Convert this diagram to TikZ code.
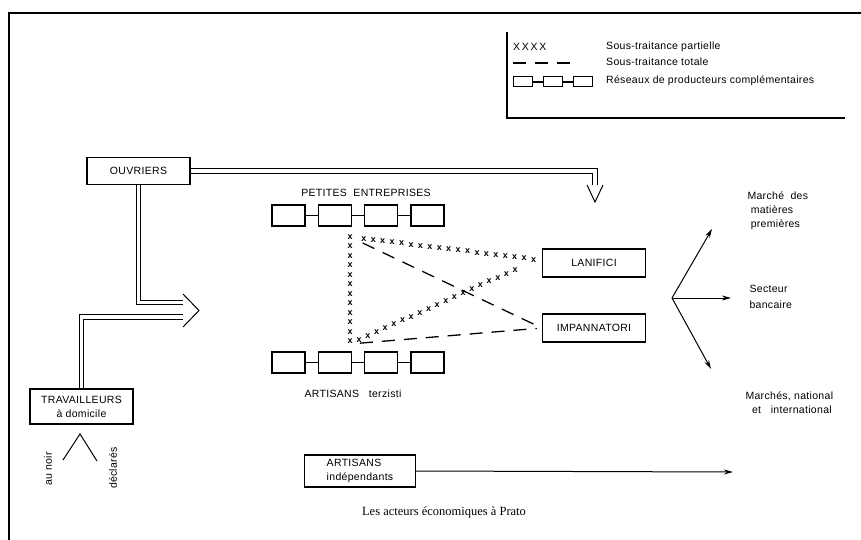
\documentclass[tikz,border=0pt]{standalone}
\usepackage{fontspec}
\setmainfont{Liberation Sans}[LetterSpace=3]
\newfontfamily\legendefont{Liberation Serif}
\usepackage{tikz}
\usetikzlibrary{arrows.meta, positioning, calc, decorations.markings}
\tikzset{
  acteur/.style={rectangle, draw, line width=1.4pt, align=center,
    minimum width=103pt, minimum height=27pt, inner sep=2pt},
  maillon/.style={rectangle, draw, line width=1.3pt,
    minimum width=33pt, minimum height=21pt, inner sep=0pt},
  petitmaillon/.style={rectangle, draw, line width=1pt,
    minimum width=19pt, minimum height=10pt, inner sep=0pt},
  lien/.style={line width=1.3pt},
  flux/.style={double, double distance=3.5pt, line width=0.9pt},
  tete/.style={line width=1pt},
  partielle/.style={decorate, decoration={markings,
    mark=between positions 0 and 1 step 9.5pt with
    {\node[font=\bfseries\fontsize{9}{9}\selectfont, inner sep=0pt] {x};}}},
  totale/.style={line width=1.3pt, dash pattern=on 13pt off 9pt},
  fleche/.style={-{Stealth[length=9pt,width=5pt]}, line width=1pt},
  etiquette/.style={align=left, anchor=west}
}
\begin{document}
\begin{tikzpicture}[x=1pt, y=-1pt, font=\fontsize{10.5}{14}\selectfont]
  \useasboundingbox (0,0) rectangle (861,540);
  % cadre
  \draw[line width=1.6pt] (9,540) -- (9,13) -- (861,13);
  % legende
  \draw[line width=1.2pt] (507,32) -- (507,118) -- (845,118);
  \node[anchor=west, inner sep=0pt] (lx) at (513,47) {X\,X\,X\,X};
  \draw[totale] (513,63) -- (573,63);
  \node[petitmaillon] (lg1) at (523,82) {};
  \node[petitmaillon, right=10pt of lg1] (lg2) {};
  \node[petitmaillon, right=10pt of lg2] (lg3) {};
  \draw[lien] (lg1) -- (lg2) (lg2) -- (lg3);
  \node[anchor=west, inner sep=0pt] (lt1) at (606,47) {Sous-traitance partielle};
  \node[anchor=west, inner sep=0pt] (lt2) at (606,62) {Sous-traitance totale};
  \node[anchor=west, inner sep=0pt] (lt3) at (606,81) {Réseaux de producteurs complémentaires};
  % acteurs
  \node[acteur] (ouv) at (138.5,171) {OUVRIERS};
  \node[acteur, minimum height=35pt] (trav) at (81.5,406.5) {TRAVAILLEURS\\à domicile};
  \node[acteur, minimum height=28pt] (lan) at (594,263) {LANIFICI};
  \node[acteur, minimum height=28pt] (imp) at (594,328) {IMPANNATORI};
  \node[acteur, minimum width=111pt, minimum height=32pt, align=left] (ind) at (360,471)
       {ARTISANS\\indépendants};
  % petites entreprises
  \node (pelab) at (366,193) {PETITES\ \ ENTREPRISES};
  \node[maillon] (pe1) at (288.5,215.5) {};
  \node[maillon, right=12pt of pe1] (pe2) {};
  \node[maillon, right=12pt of pe2] (pe3) {};
  \node[maillon, right=12pt of pe3] (pe4) {};
  \draw[lien] (pe1) -- (pe2) (pe2) -- (pe3) (pe3) -- (pe4);
  % artisans terzisti
  \node[maillon] (ar1) at (288.5,362.5) {};
  \node[maillon, right=12pt of ar1] (ar2) {};
  \node[maillon, right=12pt of ar2] (ar3) {};
  \node[maillon, right=12pt of ar3] (ar4) {};
  \draw[lien] (ar1) -- (ar2) (ar2) -- (ar3) (ar3) -- (ar4);
  \node (arlab) at (353,394) {ARTISANS\ \ \ terzisti};
  % sous-traitance
  \coordinate (tj) at (350,237);
  \coordinate (bj) at (350,344);
  \path[partielle] (tj) -- (bj);
  \path[partielle] ($(tj)!14pt!(lan.west)$) -- ($(lan.west)+(-6,-3)$);
  \path[partielle] ($(bj)!10pt!(lan.west)$) -- ($(lan.west)+(-18,3)$);
  \draw[totale, shorten <=14pt, shorten >=5pt] (tj) -- (imp.west);
  \draw[totale, shorten <=10pt, shorten >=5pt] (bj) -- (imp.west);
  % main-d'oeuvre
  \coordinate (descente) at (595,185);
  \coordinate (pointe2) at (595,202);
  \draw[flux] (ouv.east) -| (descente);
  \draw[tete] ($(pointe2)+(-8,-17)$) -- (pointe2) -- ($(pointe2)+(8,-17)$);
  \coordinate (entree1) at (183,302.5);
  \coordinate (entree2) at (183,317);
  \coordinate (pointe) at (199,310.5);
  \draw[flux] (ouv.south) |- (entree1);
  \draw[flux] (trav.north) |- (entree2);
  \draw[tete] ($(pointe)+(-16,-16.5)$) -- (pointe) -- ($(pointe)+(-16,16.5)$);
  % travail a domicile
  \draw[line width=1pt] (63,460) -- (80,434) -- (97,461);
  \node[rotate=90] (noir) at (48,469) {au noir};
  \node[rotate=90] (decl) at (113,468) {déclarés};
  % marches
  \coordinate (fan) at (672,298);
  \coordinate (mp) at (712,229);
  \coordinate (sb) at (731,298);
  \coordinate (mn) at (711,369);
  \draw[fleche] (fan) -- (mp);
  \draw[fleche] (fan) -- (sb);
  \draw[fleche] (fan) -- (mn);
  \node[etiquette] (lmp) at (744,211) {Marché\ \ des\\\ matières\\\ premières};
  \node[etiquette, font=\fontsize{10.5}{16}\selectfont] (lsb) at (746,296.5) {Secteur\\bancaire};
  \node[etiquette] (lmn) at (742,403) {Marchés, national\\\ \ et\ \ \ international};
  \coordinate (sortie) at (733,472);
  \draw[fleche] (ind.east) -- (sortie);
  % titre
  \node[font=\legendefont\fontsize{12.5}{14}\selectfont] (titre) at (444,512)
       {Les acteurs économiques à Prato};
\end{tikzpicture}
\end{document}
